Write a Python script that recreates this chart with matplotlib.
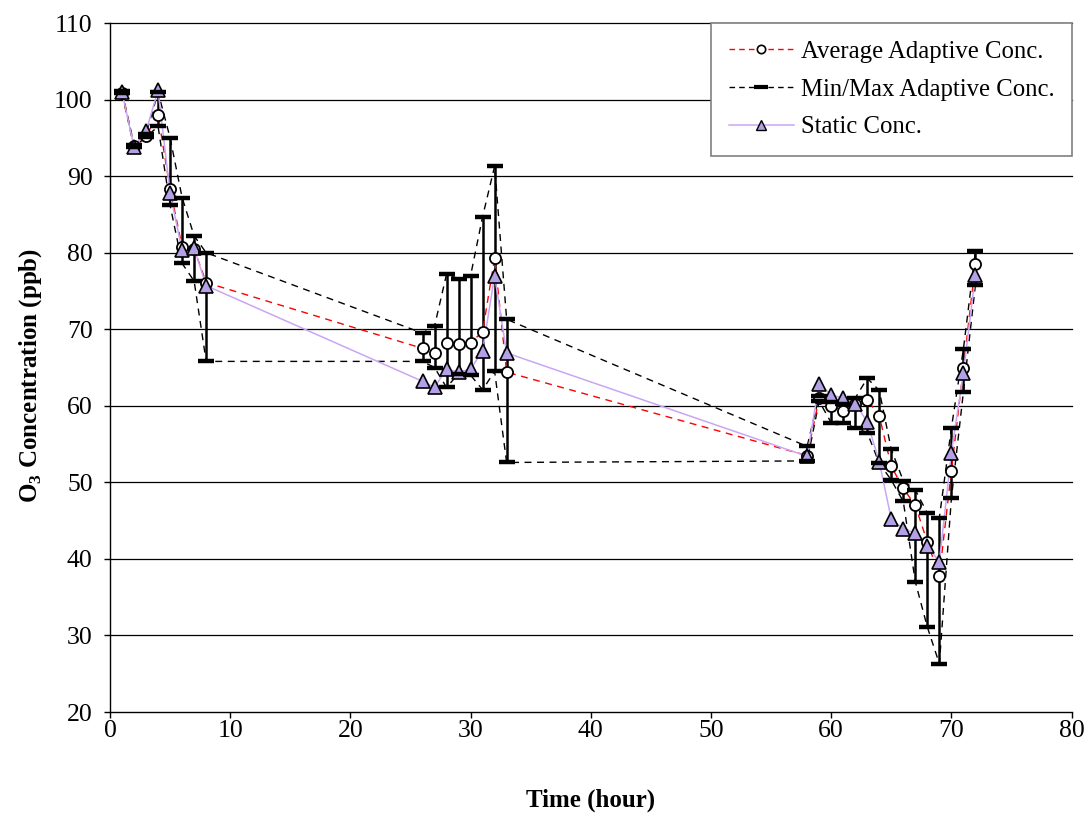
import matplotlib
matplotlib.use("Agg")
import matplotlib.pyplot as plt
from matplotlib.lines import Line2D

plt.rcParams['font.family'] = ['Liberation Serif', 'DejaVu Serif']
plt.rcParams['mathtext.fontset'] = 'custom'
plt.rcParams['mathtext.rm'] = 'Liberation Serif'
plt.rcParams['mathtext.bf'] = 'Liberation Serif:bold'

hours = [1, 2, 3, 4, 5, 6, 7, 8,
         26, 27, 28, 29, 30, 31, 32, 33,
         58, 59, 60, 61, 62, 63, 64, 65, 66, 67, 68, 69, 70, 71, 72]
avg_conc = [100.9, 94.0, 95.3, 98.0, 88.3, 80.8, 80.5, 76.1,
            67.5, 66.9, 68.2, 68.1, 68.2, 69.7, 79.3, 64.4,
            53.5, 61.0, 60.0, 59.3, 60.2, 60.8, 58.7, 52.1, 49.2, 47.0, 42.2, 37.8, 51.5, 65.0, 78.5]
static_conc = [101.0, 93.8, 95.9, 101.2, 87.8, 80.3, 80.6, 75.7,
               63.2, 62.4, 64.8, 64.4, 64.8, 67.2, 77.0, 66.9,
               53.4, 62.9, 61.4, 61.0, 60.3, 57.9, 52.7, 45.2, 43.9, 43.4, 41.7, 39.6, 53.9, 64.3, 77.1]
max_conc = [101.1, 94.1, 95.5, 101.0, 95.0, 87.2, 82.2, 80.0,
            69.5, 70.4, 77.2, 76.6, 77.0, 84.7, 91.3, 71.3,
            54.7, 61.3, 60.5, 60.3, 61.0, 63.6, 62.0, 54.3, 50.2, 49.0, 46.0, 45.4, 57.1, 67.4, 80.2]
min_conc = [100.8, 93.8, 95.1, 96.5, 86.2, 78.6, 76.3, 65.8,
            65.8, 65.0, 62.4, 64.2, 64.0, 62.1, 64.5, 52.6,
            52.8, 60.6, 57.8, 57.8, 57.1, 56.5, 52.5, 50.3, 47.5, 37.0, 31.1, 26.3, 47.9, 61.8, 75.8]

x_ticks = [0, 10, 20, 30, 40, 50, 60, 70, 80]
y_ticks = [20, 30, 40, 50, 60, 70, 80, 90, 100, 110]

fig = plt.figure(figsize=(10.89, 8.17), dpi=100)
ax = fig.add_axes([0.101, 0.1285, 0.883, 0.8433])

ax.set_xlim(0, 80)
ax.set_ylim(20, 110)
for yv in y_ticks[1:]:
    ax.axhline(yv, color='black', lw=0.9, zorder=1, clip_on=False)

# high-low lines
ax.vlines(hours, min_conc, max_conc, color='black', lw=1.8, zorder=2)

dash_black = dict(color='black', lw=1.0, ls=(0, (5, 4)), zorder=3)
ax.plot(hours, max_conc, **dash_black)
ax.plot(hours, min_conc, **dash_black)

ax.plot(hours, avg_conc, color='red', lw=1.0, ls=(0, (5, 4)), zorder=4)
ax.plot(hours, avg_conc, ls='none', marker='o', ms=8, mfc='white', mec='black', mew=1.3, zorder=6)

ax.plot(hours, static_conc, color='#c9a6f5', lw=1.1, zorder=5)
ax.plot(hours, static_conc, ls='none', marker='^', ms=9.5, mfc='#b4a0e6', mec='black', mew=1.2, zorder=7)

ax.plot(hours, max_conc, ls='none', marker='_', ms=12, mew=3.2, color='black', zorder=8)
ax.plot(hours, min_conc, ls='none', marker='_', ms=12, mew=3.2, color='black', zorder=8)

ax.set_xticks(x_ticks)
ax.set_yticks(y_ticks)
ax.tick_params(axis='both', labelsize=18.5, direction='out', length=4.5, width=1, color='black')
ax.tick_params(axis='x', pad=1)
ax.tick_params(axis='y', pad=8)
for s in ['top', 'right']:
    ax.spines[s].set_visible(False)
for s in ['left', 'bottom']:
    ax.spines[s].set_linewidth(1.0)

xl = ax.set_xlabel('Time (hour)', fontsize=18, fontweight='bold')
ax.xaxis.set_label_coords(0.5, -0.128)
xl.set_va('center')
yl = ax.set_ylabel(r'O$_\mathbf{3}$ Concentration (ppb)', fontsize=18, fontweight='bold')
ax.yaxis.set_label_coords(-0.083, 0.488)
yl.set_va('center')

handles = [
    Line2D([], [], color='red', lw=1.0, ls=(0, (4, 3)), marker='o', ms=6, mfc='white', mec='black', mew=1.2),
    Line2D([], [], color='black', lw=1.0, ls=(0, (4, 3)), marker='_', ms=10, mew=3),
    Line2D([], [], color='#c9a6f5', lw=1.1, marker='^', ms=7, mfc='#b4a0e6', mec='black', mew=1.0),
]
labels = ['Average Adaptive Conc.', 'Min/Max Adaptive Conc.', 'Static Conc.']
leg = ax.legend(handles, labels, loc='upper right', bbox_to_anchor=(1.0, 1.0),
                fontsize=17.8, frameon=True, fancybox=False, framealpha=1,
                edgecolor='#808080', borderaxespad=0, handlelength=2.63,
                labelspacing=0.63, borderpad=0.7, handletextpad=0.28)
leg.get_frame().set_linewidth(1.2)
leg.set_zorder(10)

fig.savefig('out.png', dpi=100)
